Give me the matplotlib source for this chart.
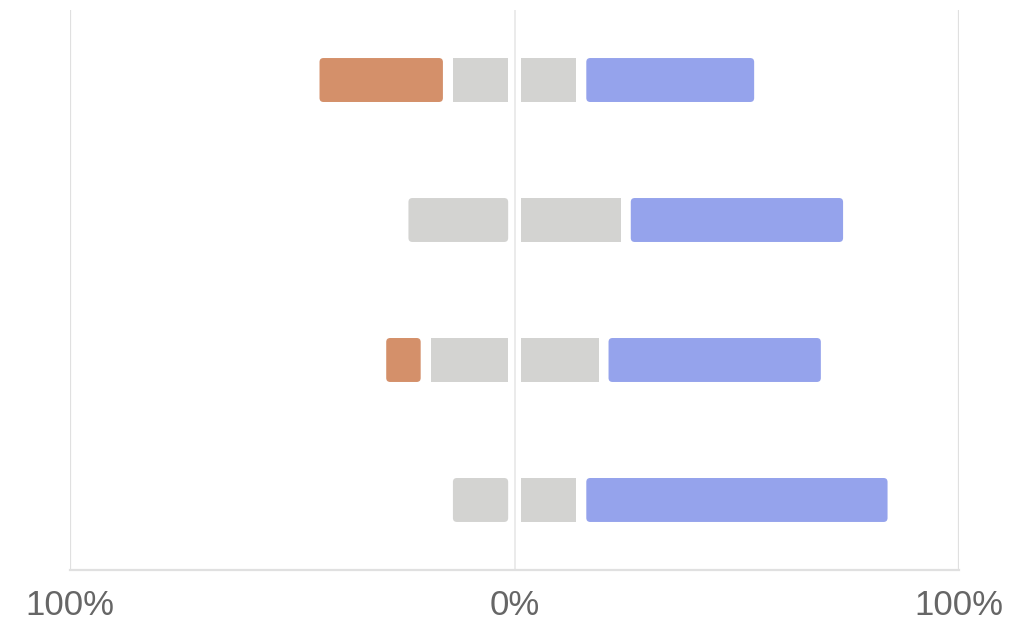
import matplotlib.pyplot as plt
from matplotlib.patches import FancyBboxPatch
from matplotlib.ticker import FuncFormatter

# share of answers per question (percent)
negative = [30, 0, 10, 0]
neutral = [30, 50, 40, 30]
positive = [40, 50, 50, 70]

c_neg = '#d4906a'
c_neu = '#d3d3d1'
c_pos = '#95a3ec'

fig = plt.figure(figsize=(10.32, 6.26), dpi=100)
ax = fig.add_axes([0.0678, 0.0895, 0.8617, 0.8945])

gap = 2.25      # white gap between segments, in % units
h = 0.314       # bar height in row units
rad = 0.9       # corner radius in % units
aspect = 4.445 / 140


def seg(y, left, width, color, rounded, gl=gap, gr=gap):
    if width <= 0:
        return
    x0 = left + gl / 2
    w = width - (gl + gr) / 2
    if rounded:
        style = 'round,pad=0,rounding_size=%f' % rad
    else:
        style = 'square,pad=0'
    ax.add_patch(FancyBboxPatch((x0, y - h / 2), w, h, boxstyle=style,
                                mutation_aspect=aspect, fc=color, ec='none',
                                zorder=3))


mid = 2.9  # slightly wider gap at 0%
for i in range(len(neutral)):
    y = i + 0.5
    half = neutral[i] / 2
    # left side: neutral half then negative
    seg(y, -half, half, c_neu, negative[i] == 0, gr=mid)
    seg(y, -half - negative[i], negative[i], c_neg, True)
    # right side: neutral half then positive
    seg(y, 0, half, c_neu, positive[i] == 0, gl=mid)
    seg(y, half, positive[i], c_pos, True)

ax.set_xlim(-100, 100)
ax.set_ylim(len(neutral), 0)
ax.set_xticks([-100, 0, 100])
ax.xaxis.set_major_formatter(FuncFormatter(lambda v, p: '%d%%' % abs(v)))
ax.set_yticks([])

ax.axvline(-100, color='#e0e0e0', lw=1.6, zorder=1)
ax.axvline(100, color='#e0e0e0', lw=1.6, zorder=1)
ax.axvline(0, color='#e8e8e8', lw=1.2, zorder=1)

for s in ['top', 'left', 'right']:
    ax.spines[s].set_visible(False)
ax.spines['bottom'].set_color('#e0e0e0')
ax.spines['bottom'].set_linewidth(1.6)

ax.tick_params(axis='x', length=0, pad=14, labelsize=25, labelcolor='#666666')
for lab in ax.get_xticklabels():
    lab.set_fontfamily('Liberation Sans')

fig.savefig('out.png', dpi=100)
